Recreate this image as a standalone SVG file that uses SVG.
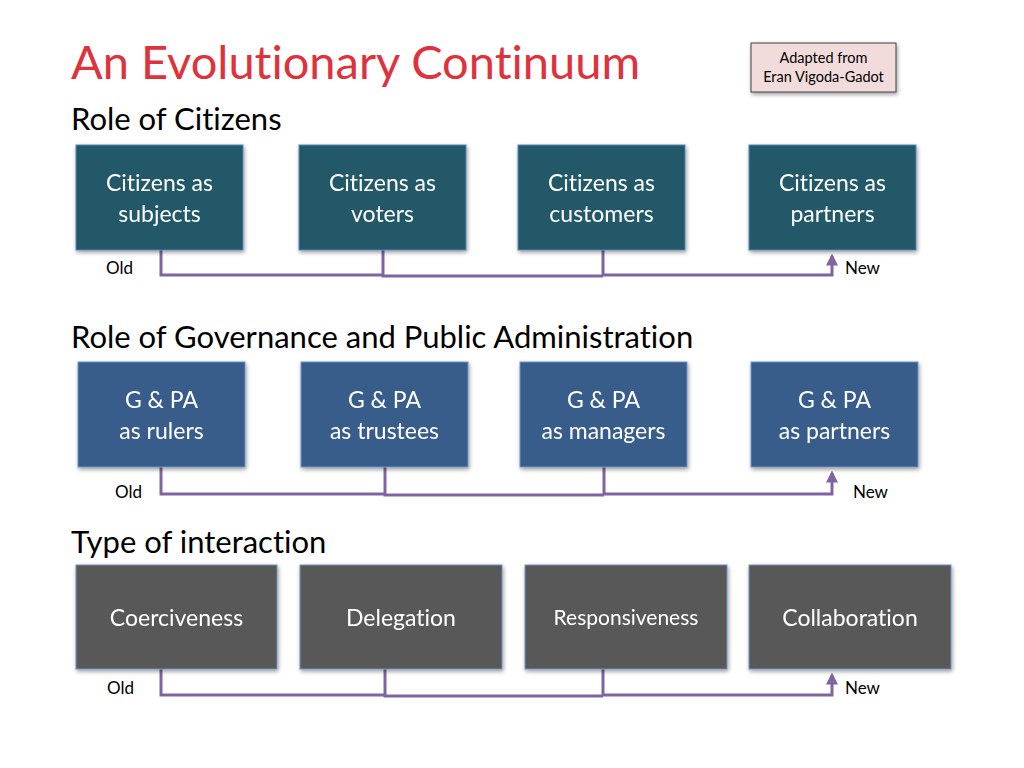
<svg xmlns="http://www.w3.org/2000/svg" width="1024" height="768" viewBox="0 0 1024 768">
<style>
text{font-family:Lato,"Open Sans","Liberation Sans",sans-serif;font-variant-ligatures:none}
.title{font-size:47px;fill:#E0323C}
.head{font-size:31px;fill:#000}
.lbl{font-size:17px;fill:#000}
.bt{font-size:23px;fill:#fff;text-anchor:middle}
.bts{font-size:21px}
.teal{fill:#215968;stroke:#5B87B8;stroke-width:1}
.blue{fill:#385D8A;stroke:#6E93C4;stroke-width:1}
.gray{fill:#595959;stroke:#6E93C4;stroke-width:1}
.con{fill:none;stroke:#8064A2;stroke-width:3}
</style>
<defs>
<filter id="sh" x="-10%" y="-10%" width="125%" height="130%">
<feGaussianBlur in="SourceAlpha" stdDeviation="2"/>
<feOffset dx="1" dy="2" result="b"/>
<feComponentTransfer><feFuncA type="linear" slope="0.4"/></feComponentTransfer>
<feMerge><feMergeNode/><feMergeNode in="SourceGraphic"/></feMerge>
</filter>
<marker id="ar" viewBox="0 0 10 10" refX="8" refY="5" markerWidth="4" markerHeight="4" orient="auto">
<path d="M0,0 L10,5 L0,10 z" fill="#8064A2"/>
</marker>
</defs>
<rect width="1024" height="768" fill="#fff"/>
<text class="title" x="71" y="79">An Evolutionary Continuum</text>
<g id="adapted">
<rect x="751" y="43" width="145" height="49" fill="#F2DCDB" stroke="#404040" stroke-width="1" filter="url(#sh)"/>
<text x="823.5" y="63" font-size="14.5" text-anchor="middle">Adapted from</text>
<text x="823.5" y="82" font-size="14.5" text-anchor="middle">Eran Vigoda-Gadot</text>
</g>
<text class="head" x="71" y="130">Role of Citizens</text>
<text class="head" x="71" y="348">Role of Governance and Public Administration</text>
<text class="head" x="71" y="553">Type of interaction</text>

<g id="connectors">
<path class="con" d="M161,250 V275 H383"/>
<path class="con" d="M383,250 V276 H603"/>
<path class="con" d="M603,250 V275 H832 V256" marker-end="url(#ar)"/>
<path class="con" d="M161,467 V494 H385"/>
<path class="con" d="M385,467 V495 H604"/>
<path class="con" d="M604,467 V494 H832 V473" marker-end="url(#ar)"/>
<path class="con" d="M161,669 V695 H385"/>
<path class="con" d="M385,669 V696 H603"/>
<path class="con" d="M603,669 V695 H832 V675" marker-end="url(#ar)"/>
</g>
<g id="labels">
<text class="lbl" x="106" y="274">Old</text>
<text class="lbl" x="845" y="274">New</text>
<text class="lbl" x="115" y="498">Old</text>
<text class="lbl" x="853" y="498">New</text>
<text class="lbl" x="107" y="694">Old</text>
<text class="lbl" x="845" y="694">New</text>
</g>

<g id="c1" filter="url(#sh)"><rect class="teal" x="76" y="145" width="167" height="105"/>
<text class="bt" x="159.5" y="191">Citizens as</text><text class="bt" x="159.5" y="222">subjects</text></g>
<g id="c2" filter="url(#sh)"><rect class="teal" x="299" y="145" width="167" height="105"/>
<text class="bt" x="382.5" y="191">Citizens as</text><text class="bt" x="382.5" y="222">voters</text></g>
<g id="c3" filter="url(#sh)"><rect class="teal" x="518" y="145" width="167" height="105"/>
<text class="bt" x="601.5" y="191">Citizens as</text><text class="bt" x="601.5" y="222">customers</text></g>
<g id="c4" filter="url(#sh)"><rect class="teal" x="749" y="145" width="167" height="105"/>
<text class="bt" x="832.5" y="191">Citizens as</text><text class="bt" x="832.5" y="222">partners</text></g>

<g id="g1" filter="url(#sh)"><rect class="blue" x="78" y="362" width="167" height="105"/>
<text class="bt" x="161.5" y="408">G &amp; PA</text><text class="bt" x="161.5" y="439">as rulers</text></g>
<g id="g2" filter="url(#sh)"><rect class="blue" x="301" y="362" width="167" height="105"/>
<text class="bt" x="384.5" y="408">G &amp; PA</text><text class="bt" x="384.5" y="439">as trustees</text></g>
<g id="g3" filter="url(#sh)"><rect class="blue" x="520" y="362" width="167" height="105"/>
<text class="bt" x="603.5" y="408">G &amp; PA</text><text class="bt" x="603.5" y="439">as managers</text></g>
<g id="g4" filter="url(#sh)"><rect class="blue" x="751" y="362" width="167" height="105"/>
<text class="bt" x="834.5" y="408">G &amp; PA</text><text class="bt" x="834.5" y="439">as partners</text></g>

<g id="i1" filter="url(#sh)"><rect class="gray" x="76" y="565" width="201" height="104"/>
<text class="bt" x="176.5" y="626">Coerciveness</text></g>
<g id="i2" filter="url(#sh)"><rect class="gray" x="300" y="565" width="202" height="104"/>
<text class="bt" x="401" y="626">Delegation</text></g>
<g id="i3" filter="url(#sh)"><rect class="gray" x="525" y="565" width="202" height="104"/>
<text class="bt bts" x="626" y="625">Responsiveness</text></g>
<g id="i4" filter="url(#sh)"><rect class="gray" x="749" y="565" width="202" height="104"/>
<text class="bt" x="850" y="626">Collaboration</text></g>
</svg>
